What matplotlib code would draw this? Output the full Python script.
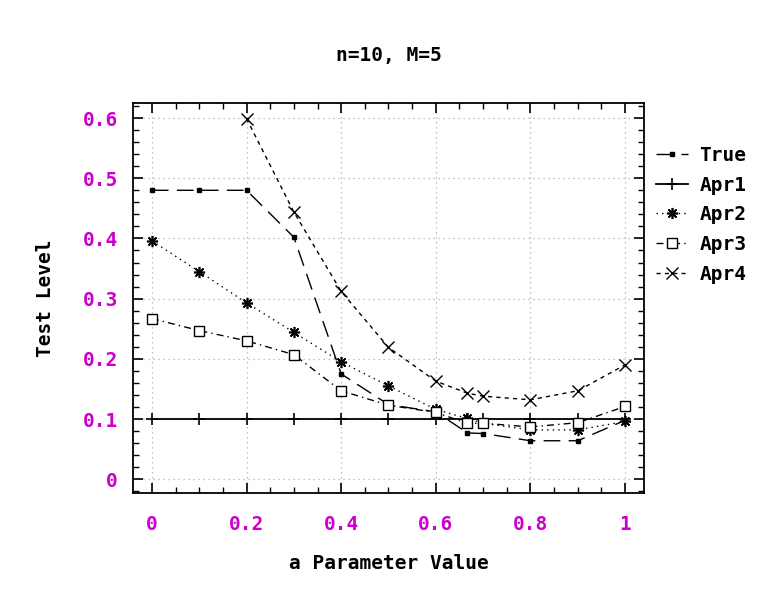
import matplotlib
matplotlib.use("Agg")
import matplotlib.pyplot as plt
from matplotlib.ticker import MultipleLocator, FixedLocator, FixedFormatter

# ---- data ----
x_vals = [0, 0.1, 0.2, 0.3, 0.4, 0.5, 0.6, 2/3, 0.7, 0.8, 0.9, 1.0]
true_vals = [0.480, 0.480, 0.480, 0.402, 0.175, 0.124, 0.112, 0.077, 0.076, 0.064, 0.064, 0.098]
apr1_vals = [0.1, 0.1, 0.1, 0.1, 0.1, 0.1, 0.1, 0.1, 0.1, 0.1, 0.1, 0.1]
apr2_vals = [0.396, 0.345, 0.293, 0.244, 0.195, 0.155, 0.116, 0.101, 0.093, 0.082, 0.082, 0.096]
apr3_vals = [0.267, 0.247, 0.230, 0.207, 0.147, 0.123, 0.111, 0.093, 0.093, 0.087, 0.094, 0.121]
x_apr4 = [0.2, 0.3, 0.4, 0.5, 0.6, 2/3, 0.7, 0.8, 0.9, 1.0]
apr4_vals = [0.599, 0.444, 0.312, 0.219, 0.163, 0.143, 0.138, 0.132, 0.147, 0.190]

x_ticks = [0, 0.2, 0.4, 0.6, 0.8, 1.0]
x_tick_labels = ["0", "0.2", "0.4", "0.6", "0.8", "1"]
y_ticks = [0, 0.1, 0.2, 0.3, 0.4, 0.5, 0.6]
y_tick_labels = ["0", "0.1", "0.2", "0.3", "0.4", "0.5", "0.6"]

title = "n=10, M=5"
xlabel = "a Parameter Value"
ylabel = "Test Level"

# ---- style ----
FONT = "DejaVu Sans Mono"
MAG = "#cc00cc"
FS = 14
plt.rcParams["font.family"] = [FONT]

fig = plt.figure(figsize=(7.64, 5.97), dpi=100)
ax = fig.add_axes([0.174, 0.174, 0.669, 0.6535])

lw = 1.0
ax.plot(x_vals, true_vals, color="black", lw=lw, dashes=(12, 6),
        marker="s", ms=3.2, mfc="black", mec="black", label="True")
ax.plot(x_vals, apr1_vals, color="black", lw=1.3, ls="-",
        marker="+", ms=9, mew=1.2, label="Apr1")
ax.plot(x_vals, apr2_vals, color="black", lw=lw, ls=(0, (1, 3)),
        marker=(8, 2, 0), ms=8, mew=1.2, label="Apr2")
ax.plot(x_vals, apr3_vals, color="black", lw=lw, ls=(0, (5, 3, 1, 3)),
        marker="s", ms=7, mfc="white", mec="black", mew=1.0, label="Apr3")
ax.plot(x_apr4, apr4_vals, color="black", lw=lw, ls=(0, (3, 3)),
        marker="x", ms=9, mew=1.0, label="Apr4")

ax.set_xlim(-0.04, 1.04)
ax.set_ylim(-0.023, 0.625)

ax.xaxis.set_major_locator(FixedLocator(x_ticks))
ax.xaxis.set_major_formatter(FixedFormatter(x_tick_labels))
ax.xaxis.set_minor_locator(MultipleLocator(0.05))
ax.yaxis.set_major_locator(FixedLocator(y_ticks))
ax.yaxis.set_major_formatter(FixedFormatter(y_tick_labels))
ax.yaxis.set_minor_locator(MultipleLocator(0.02))

ax.tick_params(which="both", direction="in", top=True, right=True, color="black")
ax.tick_params(which="major", length=7, width=1.2)
ax.tick_params(which="minor", length=4, width=1.0)
ax.tick_params(axis="x", which="major", pad=16, labelsize=FS, labelcolor=MAG)
ax.tick_params(axis="y", which="major", pad=11, labelsize=FS, labelcolor=MAG)
for lab in ax.get_xticklabels() + ax.get_yticklabels():
    lab.set_fontweight("bold")

ax.grid(True, which="major", color="#b0b0b0", ls=(0, (1, 3)), lw=0.9)
for s in ax.spines.values():
    s.set_linewidth(1.3)

ax.set_title(title, fontsize=FS, fontweight="bold", pad=30)
ax.set_xlabel(xlabel, fontsize=FS, fontweight="bold", labelpad=14)
ax.set_ylabel(ylabel, fontsize=FS, fontweight="bold", labelpad=20)

leg = ax.legend(loc="upper left", bbox_to_anchor=(0.99, 0.935), frameon=False,
                prop={"family": FONT, "weight": "bold", "size": FS},
                handlelength=1.6, labelspacing=0.55, handletextpad=0.6,
                borderaxespad=0.5)

fig.savefig("out.png", dpi=100, facecolor="white")
